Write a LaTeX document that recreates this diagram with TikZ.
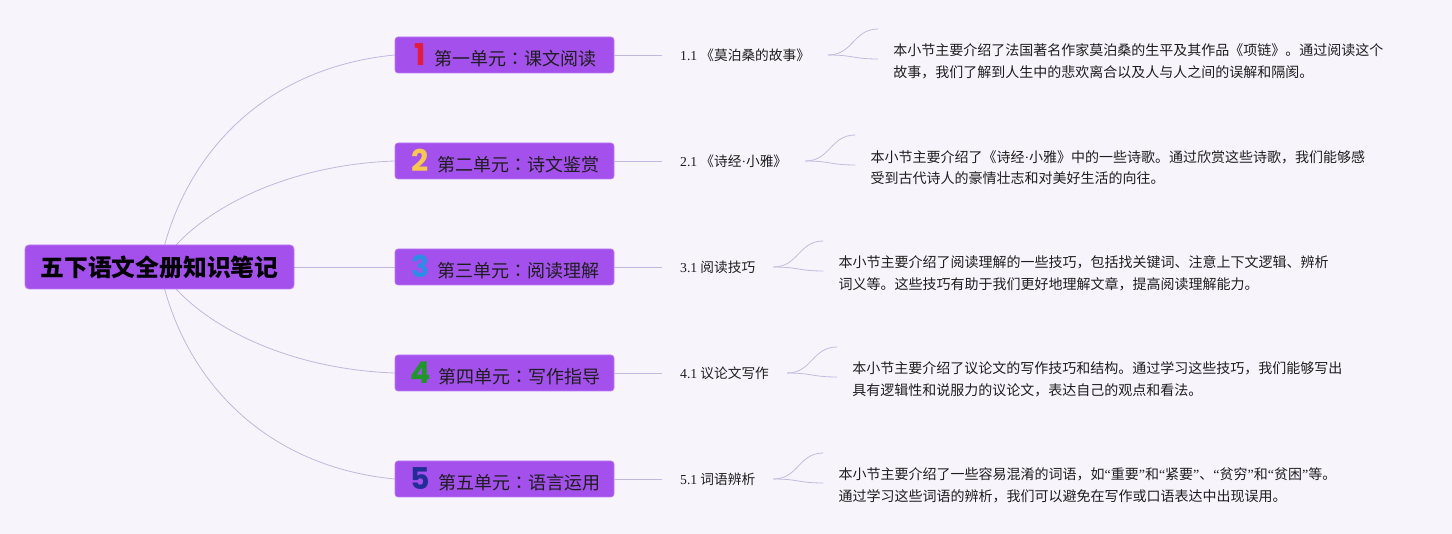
\documentclass[tikz,border=0pt]{standalone}
\usepackage{fontspec}
\setmainfont{Noto Sans CJK SC}
\newfontfamily\cjk{Noto Sans CJK SC}
\newfontfamily\cjktc{Noto Sans CJK TC}
\newfontfamily\numfont{Poppins}
\newfontfamily\serifnum{Liberation Serif}
\usetikzlibrary{backgrounds}
\definecolor{bgc}{RGB}{247,244,252}
\definecolor{purp}{RGB}{163,80,236}
\definecolor{bordc}{RGB}{190,125,245}
\definecolor{linec}{RGB}{192,184,222}
\definecolor{forkc}{RGB}{196,186,224}
\definecolor{textc}{RGB}{30,30,30}
\definecolor{nred}{RGB}{226,28,58}
\definecolor{nyel}{RGB}{246,200,80}
\definecolor{nblu}{RGB}{45,140,230}
\definecolor{ngrn}{RGB}{30,150,40}
\definecolor{nnav}{RGB}{35,45,150}
\newcommand\unum[2]{\hspace{2pt}{\numfont\bfseries\fontsize{30}{30}\selectfont\color{#1}#2}\hspace{8.5pt}}
\newcommand\ucolon{{\cjktc ：}}
\newcommand\myLq{{\serifnum “}}
\newcommand\myRq{{\serifnum ”}}
\newcommand\mdot{{\serifnum ·}}
\begin{document}
\begin{tikzpicture}[x=1pt,y=-1pt,
  rootbox/.style={draw=bordc, line width=0.8pt, fill=purp, rounded corners=4pt,
    minimum width=269pt, minimum height=44pt, inner sep=0pt,
    font=\cjk\bfseries\fontsize{23.8}{26}\selectfont, text=black},
  unitbox/.style={draw=bordc, line width=0.6pt, fill=purp, rounded corners=3pt,
    minimum width=219pt, minimum height=36pt, inner sep=0pt,
    font=\cjk\fontsize{18}{20}\selectfont, text=textc},
  subnode/.style={inner xsep=18pt, inner ysep=2pt, anchor=west,
    font=\cjk\fontsize{13.7}{16}\selectfont, text=textc},
  descnode/.style={inner sep=0pt, align=left, anchor=west,
    font=\cjk\fontsize{14}{21.5}\selectfont, text=textc},
  link/.style={draw=linec, line width=0.8pt},
  forkline/.style={draw=forkc, line width=0.8pt}]
\useasboundingbox (0,0) rectangle (1452,534);

% root and units
\node[rootbox] (root) at (159.5,267) {五下语文全册知识笔记};
\node[unitbox] (u1) at (504.5,55) {\unum{nred}{1}第一单元\ucolon 课文阅读};
\node[unitbox] (u2) at (504.5,161) {\unum{nyel}{2}第二单元\ucolon 诗文鉴赏};
\node[unitbox] (u3) at (504.5,267) {\unum{nblu}{3}第三单元\ucolon 阅读理解};
\node[unitbox] (u4) at (504.5,373) {\unum{ngrn}{4}第四单元\ucolon 写作指导};
\node[unitbox] (u5) at (504.5,479) {\unum{nnav}{5}第五单元\ucolon 语言运用};

% subtopics
\node[subnode] (s1) at (662,55) {{\serifnum 1.1} 《莫泊桑的故事》};
\node[subnode] (s2) at (662,161) {{\serifnum 2.1} 《诗经\mdot 小雅》};
\node[subnode] (s3) at (662,267) {{\serifnum 3.1} 阅读技巧};
\node[subnode] (s4) at (662,373) {{\serifnum 4.1} 议论文写作};
\node[subnode] (s5) at (662,479) {{\serifnum 5.1} 词语辨析};

% descriptions
\node[descnode] (d1) at ([shift={(65,6.5)}]s1.east) {本小节主要介绍了法国著名作家莫泊桑的生平及其作品《项链》。通过阅读这个\\故事，我们了解到人生中的悲欢离合以及人与人之间的误解和隔阂。};
\node[descnode] (d2) at ([shift={(65,6.5)}]s2.east) {本小节主要介绍了《诗经\mdot 小雅》中的一些诗歌。通过欣赏这些诗歌，我们能够感\\受到古代诗人的豪情壮志和对美好生活的向往。};
\node[descnode] (d3) at ([shift={(65,6.5)}]s3.east) {本小节主要介绍了阅读理解的一些技巧，包括找关键词、注意上下文逻辑、辨析\\词义等。这些技巧有助于我们更好地理解文章，提高阅读理解能力。};
\node[descnode] (d4) at ([shift={(65,6.5)}]s4.east) {本小节主要介绍了议论文的写作技巧和结构。通过学习这些技巧，我们能够写出\\具有逻辑性和说服力的议论文，表达自己的观点和看法。};
\node[descnode] (d5) at ([shift={(65,6.5)}]s5.east) {本小节主要介绍了一些容易混淆的词语，如\myLq 重要\myRq 和\myLq 紧要\myRq 、\myLq 贫穷\myRq 和\myLq 贫困\myRq 等。\\通过学习这些词语的辨析，我们可以避免在写作或口语表达中出现误用。};

% unit to subtopic links and forks
\foreach \i in {1,...,5} {
  \draw[link] (u\i.east) -- (s\i.west);
  \coordinate (t\i) at ([shift={(50,-26)}]s\i.east);
  \coordinate (b\i) at ([shift={(50,4)}]s\i.east);
  \draw[forkline] (s\i.east) .. controls +(25,0) and +(-25,0) .. (t\i);
  \draw[forkline] (s\i.east) .. controls +(25,0) and +(-25,0) .. (b\i);
}

\begin{scope}[on background layer]
  \fill[bgc] (0,0) rectangle (1452,534);
  \draw[link] (root.center) .. controls (180,160) and (260,68) .. (u1.west);
  \draw[link] (root.center) .. controls (190,215) and (280,165) .. (u2.west);
  \draw[link] (root.east) -- (u3.west);
  \draw[link] (root.center) .. controls (190,319) and (280,369) .. (u4.west);
  \draw[link] (root.center) .. controls (180,374) and (260,466) .. (u5.west);
\end{scope}
\end{tikzpicture}
\end{document}
